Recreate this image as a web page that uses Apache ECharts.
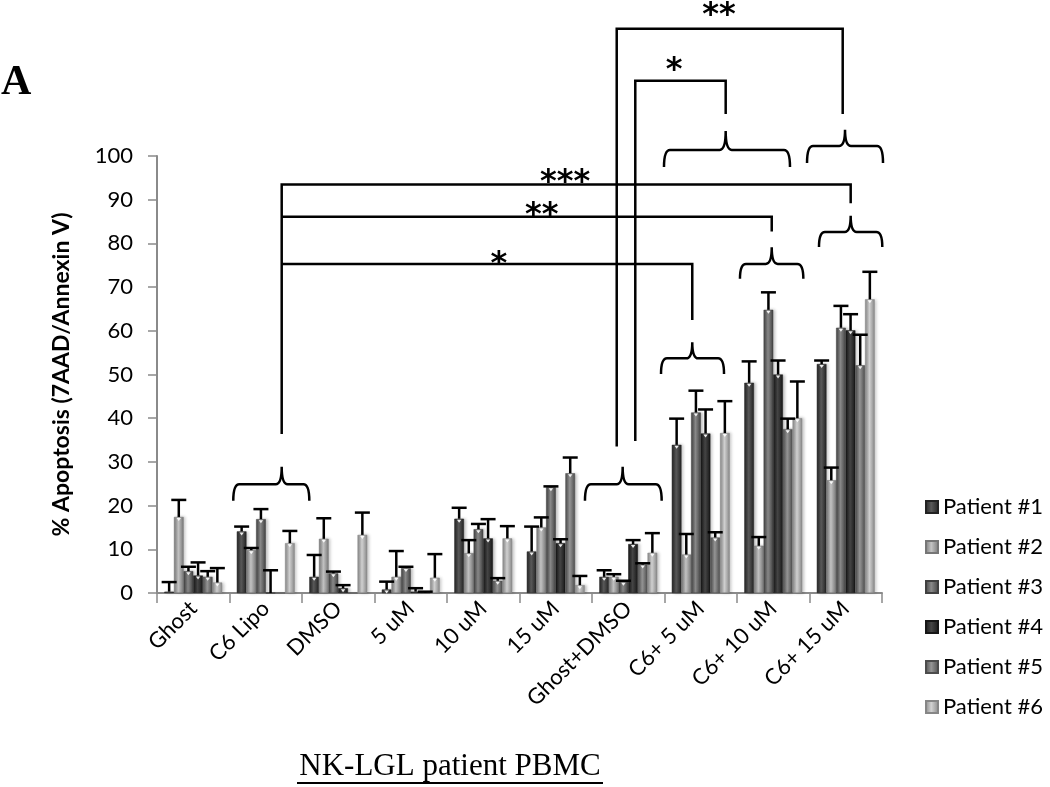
<!DOCTYPE html>
<html>
<head>
<meta charset="utf-8">
<script src="https://cdn.jsdelivr.net/npm/echarts@6/dist/echarts.min.js"></script>
<style>
html,body{margin:0;padding:0;background:#fff;}
#chart{width:1050px;height:787px;}
</style>
</head>
<body>
<div id="chart"></div>
<script>
// ---- data ----
const categories = ['Ghost','C6 Lipo','DMSO','5 uM','10 uM','15 uM','Ghost+DMSO','C6+ 5 uM','C6+ 10 uM','C6+ 15 uM'];
const patients = ['Patient #1','Patient #2','Patient #3','Patient #4','Patient #5','Patient #6'];
const yTicks = [0,10,20,30,40,50,60,70,80,90,100];

const patient1 = [0.3, 14.1, 3.7, 0.8, 17.0, 9.5, 3.7, 33.9, 48.1, 52.4];
const patient2 = [17.4, 9.8, 12.4, 3.7, 9.1, 15.0, 3.7, 8.8, 10.8, 25.8];
const patient3 = [5.0, 16.9, 4.5, 5.7, 14.6, 24.2, 2.6, 41.3, 64.8, 60.7];
const patient4 = [4.0, 0, 1.1, 0.3, 12.5, 11.4, 11.2, 36.5, 50.0, 60.1];
const patient5 = [3.7, 0, 0, 0, 2.8, 27.4, 6.5, 12.7, 37.5, 52.1];
const patient6 = [2.4, 11.4, 13.3, 3.5, 12.5, 1.8, 9.2, 36.6, 40.0, 67.2];

const error1 = [2.2, 1.1, 5.0, 1.8, 2.5, 5.7, 1.5, 6.0, 4.9, 0.8];
const error2 = [3.9, 0.5, 4.7, 5.9, 3.0, 2.3, 0.6, 4.7, 2.0, 2.9];
const error3 = [1.0, 2.3, 0.4, 0.3, 1.2, 0.2, 0.2, 5.0, 4.0, 5.0];
const error4 = [3.0, 5.2, 0.7, 0.8, 4.4, 0.9, 0.9, 5.5, 3.2, 3.7];
const error5 = [1.3, 0, 0, 0.3, 0.6, 3.6, 0.3, 1.2, 2.4, 7.0];
const error6 = [3.3, 2.8, 5.1, 5.4, 2.8, 2.1, 4.5, 7.3, 8.4, 6.3];

// significance annotations, in data units (x: category units from left edge, y: % apoptosis)
// braces: [xStart, xEnd, xPeak, yHook, yLine, yPeak]
const braces = [
  [1.052, 2.101, 1.72, 21.1, 24.9, 28.9],
  [5.903, 6.961, 6.423, 21.1, 24.9, 28.9],
  [6.952, 7.821, 7.383, 50.1, 53.7, 57.4],
  [8.041, 8.915, 8.479, 71.9, 75.3, 79.1],
  [9.131, 10.004, 9.568, 79.2, 82.6, 86.3],
  [6.993, 8.731, 7.844, 97.5, 101.4, 105.7],
  [8.966, 10.014, 9.49, 98.4, 102.3, 106.0]
];
const connectors = [
  [[1.72,36.4],[1.72,93.5],[9.568,93.5],[9.568,89.2]],
  [[1.72,86.1],[8.479,86.1],[8.479,82.7]],
  [[1.72,75.3],[7.383,75.3],[7.383,62.5]],
  [[6.341,33.5],[6.341,129.1],[9.458,129.1],[9.458,109.6]],
  [[6.597,34.8],[6.597,117.2],[7.844,117.2],[7.844,109.6]]
];
const stars = [['*',4.717,77.0],['**',5.306,88.2],['***',5.628,95.7],['*',7.131,121.3],['**',7.752,133.9]];

// ---- styles ----
const values = [patient1,patient2,patient3,patient4,patient5,patient6];
const errors = [error1,error2,error3,error4,error5,error6];
const shades = [
  ['#222222','#5a5a5a'],
  ['#767676','#c4c4c4'],
  ['#404040','#8a8a8a'],
  ['#161616','#464646'],
  ['#4c4c4c','#969696'],
  ['#868686','#d2d2d2']
];
const BAR_FRAC = 0.133;
const FONT = 'Lato, "Open Sans", sans-serif';

function grad(s){
  return new echarts.graphic.LinearGradient(0,0,1,0,[
    {offset:0,color:s[0]},{offset:0.45,color:s[1]},{offset:1,color:s[0]}
  ]);
}

const series = [];
values.forEach((vals,j)=>{
  series.push({
    name: patients[j], type:'bar', data: vals,
    barWidth: (BAR_FRAC*100)+'%', barGap:'0%',
    itemStyle:{color:grad(shades[j]), borderColor:shades[j][0], borderWidth:0.5,
      shadowBlur:3, shadowColor:'rgba(0,0,0,0.25)', shadowOffsetX:2},
    z:2
  });
});
values.forEach((vals,j)=>{
  series.push({
    name:'err'+j, type:'custom', xAxisIndex:0, yAxisIndex:0, z:5,
    data: vals.map((v,i)=>[i, v, errors[j][i]]),
    encode:{x:0,y:1},
    renderItem:function(params, api){
      const i = api.value(0), v = api.value(1), e = api.value(2);
      const p = api.coord([i, v]);
      const band = api.size([1,0])[0];
      const cx = p[0] + (j-2.5)*band*BAR_FRAC;
      const top = p[1];
      const children = [];
      if (v > 0.6) {
        children.push({type:'polygon', shape:{points:[[cx-2.2,top+1],[cx+2.2,top+1],[cx,top+4]]},
          style:{fill:'#ffffff', opacity:0.9}});
      }
      if (e > 0) {
        const cy = api.coord([i, v+e])[1];
        children.push({type:'line', shape:{x1:cx,y1:top,x2:cx,y2:cy}, style:{stroke:'#000',lineWidth:2.5}});
        children.push({type:'line', shape:{x1:cx-7.5,y1:cy,x2:cx+7.5,y2:cy}, style:{stroke:'#000',lineWidth:2.5}});
      }
      return {type:'group', children:children};
    }
  });
});

series.push({
  name:'braces', type:'custom', xAxisIndex:1, yAxisIndex:0, z:6, silent:true,
  data: braces.map(b=>[b[2], b[4]]),
  renderItem:function(params, api){
    const b = braces[params.dataIndex];
    const a = api.coord([b[0], b[3]]);
    const z = api.coord([b[1], b[3]]);
    const c = api.coord([b[2], b[5]]);
    const yl = api.coord([b[2], b[4]])[1];
    const r = 6;
    const d = 'M'+a[0]+','+a[1]+' Q'+a[0]+','+yl+' '+(a[0]+r)+','+yl+
      ' L'+(c[0]-r)+','+yl+' Q'+c[0]+','+yl+' '+c[0]+','+c[1]+
      ' Q'+c[0]+','+yl+' '+(c[0]+r)+','+yl+
      ' L'+(z[0]-r)+','+yl+' Q'+z[0]+','+yl+' '+z[0]+','+z[1];
    return {type:'path', shape:{pathData:d}, style:{stroke:'#000', lineWidth:2.5, fill:null}};
  }
});
series.push({
  name:'connectors', type:'custom', xAxisIndex:1, yAxisIndex:0, z:6, silent:true,
  data: connectors.map(c=>c[0]),
  renderItem:function(params, api){
    const pts = connectors[params.dataIndex].map(p=>api.coord(p));
    return {type:'polyline', shape:{points:pts}, style:{stroke:'#000', lineWidth:2.5, fill:null}};
  }
});
series.push({
  name:'stars', type:'custom', xAxisIndex:1, yAxisIndex:0, z:7, silent:true,
  data: stars.map(s=>[s[1], s[2]]),
  renderItem:function(params, api){
    const s = stars[params.dataIndex];
    const p = api.coord([s[1], s[2]]);
    return {type:'text', style:{text:s[0], x:p[0], y:p[1]+8, align:'center', verticalAlign:'middle',
      font:'bold 32px "DejaVu Sans"', fill:'#000'}};
  }
});

const chart = echarts.init(document.getElementById('chart'), null, {renderer:'canvas'});
chart.setOption({
  animation:false,
  backgroundColor:'#fff',
  grid:{left:157, right:168, top:156, bottom:194, containLabel:false},
  legend:{
    data:patients, orient:'vertical', left:920, top:491,
    itemWidth:12, itemHeight:12, itemGap:18, icon:'rect',
    textStyle:{fontFamily:FONT, fontSize:22, color:'#000', lineHeight:22}
  },
  xAxis:[
    {type:'category', data:categories,
      axisLine:{lineStyle:{color:'#8a8a8a', width:2}},
      axisTick:{show:true, length:10, lineStyle:{color:'#8a8a8a', width:1.5}},
      axisLabel:{interval:0, rotate:45, fontFamily:FONT, fontSize:22, color:'#000', margin:12}
    },
    {type:'value', min:0, max:10, show:false}
  ],
  yAxis:[{
    type:'value', min:0, max:100, interval:10,
    name:'% Apoptosis (7AAD/Annexin V)', nameLocation:'middle', nameGap:84,
    nameTextStyle:{fontFamily:FONT, fontSize:23, fontWeight:'bold', color:'#000'},
    axisLine:{show:true, lineStyle:{color:'#8a8a8a', width:2}},
    axisTick:{show:true, length:9, lineStyle:{color:'#8a8a8a', width:1.5}},
    axisLabel:{fontFamily:FONT, fontSize:22, color:'#000', margin:24,
      formatter:function(v){ return yTicks.indexOf(v) >= 0 ? String(v) : ''; }},
    splitLine:{show:false}
  }],
  graphic:[
    {type:'text', left:1, top:62, style:{text:'A', font:'bold 42px "Liberation Serif"', fill:'#000'}},
    {type:'text', x:450, y:767, style:{text:'NK-LGL patient PBMC', font:'31px "Liberation Serif"', fill:'#000', align:'center', verticalAlign:'middle'}},
    {type:'line', shape:{x1:297, y1:783, x2:603, y2:783}, style:{stroke:'#000', lineWidth:2}}
  ],
  series:series
});
</script>
</body>
</html>
